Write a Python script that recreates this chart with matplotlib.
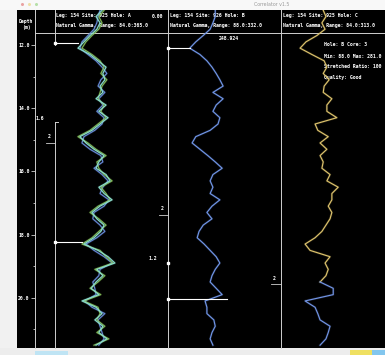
import matplotlib
matplotlib.use("Agg")
import matplotlib.pyplot as plt
from matplotlib.patches import Rectangle
import numpy as np

# ---------------- data ----------------
depth_m = [10.9, 11.1, 11.3, 11.5, 11.7, 11.9, 12.1, 12.3, 12.5, 12.7,
           12.9, 13.1, 13.3, 13.5, 13.7, 13.9, 14.1, 14.3, 14.5, 14.7,
           14.9, 15.1, 15.3, 15.5, 15.7, 15.9, 16.1, 16.3, 16.5, 16.7,
           16.9, 17.1, 17.3, 17.5, 17.7, 17.9, 18.1, 18.3, 18.5, 18.7,
           18.9, 19.1, 19.3, 19.5, 19.7, 19.9, 20.1, 20.3, 20.5, 20.7,
           20.9, 21.1, 21.3, 21.5]

hole_a_cyan = [201, 186, 196, 188, 171, 156, 141, 171, 191, 211,
               203, 208, 196, 203, 186, 211, 193, 216, 196, 176,
               146, 161, 181, 206, 193, 186, 211, 221, 193, 206,
               226, 196, 176, 188, 206, 198, 181, 156, 191, 216,
               233, 188, 203, 186, 174, 193, 151, 186, 201, 183,
               203, 193, 213, 186]
hole_a_blue = [196, 191, 188, 181, 166, 151, 146, 166, 186, 201,
               213, 198, 191, 208, 193, 203, 188, 206, 201, 183,
               156, 151, 171, 198, 203, 181, 201, 216, 203, 196,
               218, 206, 181, 178, 196, 208, 188, 161, 181, 206,
               226, 196, 193, 178, 183, 186, 158, 176, 208, 191,
               196, 201, 206, 193]
hole_a_green = [206, 193, 201, 193, 176, 161, 151, 176, 196, 206,
                198, 213, 201, 196, 191, 206, 198, 211, 191, 171,
                141, 166, 186, 211, 188, 193, 206, 226, 198, 211,
                221, 191, 171, 193, 211, 193, 176, 151, 196, 211,
                228, 183, 208, 191, 171, 198, 156, 191, 196, 188,
                208, 188, 218, 181]
hole_b = [190, 190, 185, 179, 164, 148, 135, 157, 172, 183,
          192, 200, 207, 185, 207, 192, 185, 200, 196, 179,
          148, 140, 157, 174, 190, 205, 185, 179, 185, 179,
          200, 183, 172, 183, 164, 155, 151, 166, 179, 192,
          200, 190, 183, 179, 192, 205, 168, 172, 172, 187,
          190, 183, 179, 185]
hole_c = [177, 183, 174, 181, 163, 139, 126, 152, 179, 185,
          177, 190, 179, 177, 196, 185, 185, 207, 159, 165,
          188, 170, 185, 170, 177, 174, 192, 185, 210, 196,
          196, 188, 196, 192, 183, 174, 159, 137, 148, 192,
          181, 188, 183, 170, 199, 199, 137, 159, 165, 170,
          192, 188, 183, 170]
hole_c_splice_depth = 19.5

depth_ticks = [12, 14, 16, 18, 20]
depth_tick_labels = ["12.0", "14.0", "16.0", "18.0", "20.0"]
depth_minor_ticks = [13, 15, 17, 19, 21]

track_titles = ["Leg: 154 Site: 925 Hole: A",
                "Leg: 154 Site: 926 Hole: B",
                "Leg: 154 Site: 925 Hole: C"]
track_subtitles = ["Natural Gamma, Range: 84.0:365.0",
                   "Natural Gamma, Range: 88.0:332.0",
                   "Natural Gamma, Range: 84.0:313.0"]
track_ranges = [(84.0, 365.0), (88.0, 332.0), (84.0, 313.0)]

tie_depths_a = [11.94, 18.23]
tie_values_a = [141, 151]
tie_depths_b = [12.09, 20.04]
tie_values_b = [135, 215]

info_lines = ["Hole: B Core: 3", "Min: 88.0 Max: 281.0",
              "Stretched Ratio: 100", "Quality: Good"]

# ---------------- layout ----------------
W, H = 385, 355
DEPTH_TOP, DEPTH_BOTTOM = 10.892, 21.589


def rect(x0, y0, x1, y1):
    return [x0 / W, 1 - y1 / H, (x1 - x0) / W, (y1 - y0) / H]


MONO = dict(family="DejaVu Sans Mono", fontweight="bold", fontsize=3.5,
            color="white")
LINE_C = "#cfcfcf"

fig = plt.figure(figsize=(W / 100, H / 100), dpi=100, facecolor="#f1f1f1")

# decoration layer in pixel coordinates
ax_p = fig.add_axes([0, 0, 1, 1])
ax_p.set_xlim(0, W)
ax_p.set_ylim(H, 0)
ax_p.axis("off")
ax_p.add_patch(Rectangle((0, 0), W, 10, color="#f8f8f8", lw=0))
ax_p.add_patch(Rectangle((17, 10), W - 17, 338, color="black", lw=0))
ax_p.add_patch(Rectangle((0, 348), W, 7, color="#ededed", lw=0))
ax_p.add_patch(Rectangle((35, 351), 33, 4, color="#bfe4f4", lw=0))
ax_p.add_patch(Rectangle((350, 350), 22, 5, color="#efe062", lw=0))
ax_p.add_patch(Rectangle((372, 350), 13, 5, color="#82c6ee", lw=0))
for cx, cc in zip([22, 29, 36], ["#e9a3a3", "#eee0a6", "#b6dfa9"]):
    ax_p.plot(cx, 4, "o", ms=2.2, color=cc, mec="none")
ax_p.text(272, 5, "Correlator v1.5", ha="center", va="center",
          fontsize=3.4, color="#9a9a9a", family="DejaVu Sans")

# frame lines
ax_p.plot([35, W], [33, 33], color=LINE_C, lw=0.7)
ax_p.plot([55, 55], [10, 45], color=LINE_C, lw=0.7)
ax_p.plot([55, 55], [122, 348], color=LINE_C, lw=0.7)
ax_p.plot([168, 168], [10, 348], color=LINE_C, lw=0.7)
ax_p.plot([281, 281], [10, 348], color=LINE_C, lw=0.7)
ax_p.plot([55, 58], [122, 122], color=LINE_C, lw=0.7)
ax_p.plot(168, 263, "s", ms=1.5, color="white")

# header text
ax_p.text(26, 21, "Depth", ha="center", va="center", **MONO)
ax_p.text(26, 27.5, "(m)", ha="center", va="center", **MONO)
for x0, t1, t2 in zip([56, 170, 283], track_titles, track_subtitles):
    ax_p.text(x0, 16, t1, ha="left", va="center", **MONO)
    ax_p.text(x0, 25, t2, ha="left", va="center", **MONO)
ax_p.text(158, 16, "0.00", ha="center", va="center", **MONO)
ax_p.text(229, 38, "248.924", ha="center", va="center", **MONO)
for i, line in enumerate(info_lines):
    ax_p.text(324, 45 + 11 * i, line, ha="left", va="center", **MONO)

# small marker labels
ax_p.text(40, 118, "1.6", ha="center", va="center", **MONO)
ax_p.text(49, 137, "2", ha="center", va="center", **MONO)
ax_p.plot([46, 55], [143, 143], color=LINE_C, lw=0.6)
ax_p.text(162, 208, "2", ha="center", va="center", **MONO)
ax_p.plot([159, 168], [215, 215], color=LINE_C, lw=0.6)
ax_p.text(153, 258, "1.2", ha="center", va="center", **MONO)
ax_p.text(274, 278, "2", ha="center", va="center", **MONO)
ax_p.plot([271, 281], [284, 284], color=LINE_C, lw=0.6)

# depth axis
ax_d = fig.add_axes(rect(35, 10, 55, 348))
ax_d.set_facecolor("none")
ax_d.set_ylim(DEPTH_BOTTOM, DEPTH_TOP)
ax_d.set_xticks([])
for s in ["top", "right", "bottom"]:
    ax_d.spines[s].set_visible(False)
ax_d.spines["left"].set_color(LINE_C)
ax_d.spines["left"].set_linewidth(0.7)
ax_d.set_yticks(depth_ticks)
ax_d.set_yticklabels(depth_tick_labels)
ax_d.set_yticks(depth_minor_ticks, minor=True)
ax_d.tick_params(axis="y", which="major", colors=LINE_C, length=3,
                 width=0.6, pad=0.8, labelcolor="white", labelsize=3.5)
ax_d.tick_params(axis="y", which="minor", colors=LINE_C, length=1.8,
                 width=0.6)
for lab in ax_d.get_yticklabels():
    lab.set_family("DejaVu Sans Mono")
    lab.set_fontweight("bold")

# tracks
depth = np.array(depth_m)
tracks = []
for x0, x1, rng in zip([55, 168, 281], [168, 281, 385], track_ranges):
    ax = fig.add_axes(rect(x0, 10, x1, 348))
    ax.set_facecolor("none")
    ax.set_xlim(*rng)
    ax.set_ylim(DEPTH_BOTTOM, DEPTH_TOP)
    ax.axis("off")
    tracks.append(ax)


def glow_plot(ax, x, y, color, alpha=1.0):
    ax.plot(x, y, color=color, lw=1.8, alpha=0.14 * alpha,
            solid_joinstyle="round")
    ax.plot(x, y, color=color, lw=0.85, alpha=alpha, solid_joinstyle="round")


t1, t2, t3 = tracks
glow_plot(t1, hole_a_blue, depth, "#6a8ee0", 0.95)
glow_plot(t1, hole_a_green, depth, "#8cc85e", 0.9)
glow_plot(t1, hole_a_cyan, depth, "#8adccc")
glow_plot(t2, hole_b, depth, "#7196e8")

hole_c_arr = np.array(hole_c)
upper = depth <= hole_c_splice_depth
lower = depth >= hole_c_splice_depth
glow_plot(t3, hole_c_arr[upper], depth[upper], "#dcc26c")
glow_plot(t3, hole_c_arr[lower], depth[lower], "#7294e4")

# tie lines
for d, v in zip(tie_depths_a, tie_values_a):
    t1.plot([track_ranges[0][0], v], [d, d], color="white", lw=0.8,
            clip_on=False)
    t1.plot(track_ranges[0][0], d, "s", ms=2, color="white", clip_on=False)
for d, v in zip(tie_depths_b, tie_values_b):
    t2.plot([track_ranges[1][0], v], [d, d], color="white", lw=0.8,
            clip_on=False)
    t2.plot(track_ranges[1][0], d, "s", ms=2, color="white", clip_on=False)

fig.savefig("out.png", dpi=100, facecolor=fig.get_facecolor())
